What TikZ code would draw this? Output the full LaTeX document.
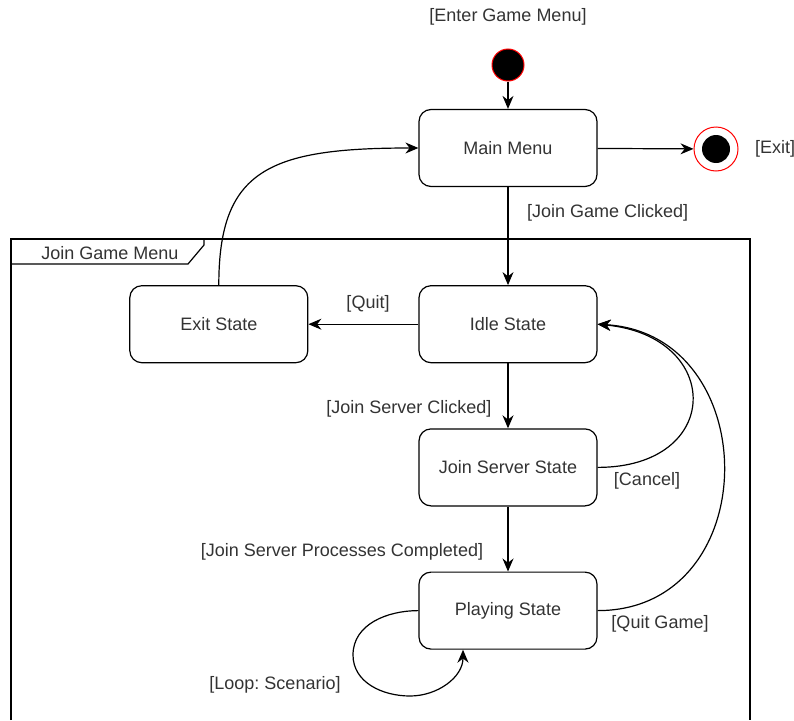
\documentclass[tikz,border=0pt]{standalone}
\usepackage{fontspec}
\setmainfont{Liberation Sans}
\usetikzlibrary{arrows.meta,positioning}
\frenchspacing

\definecolor{txtgray}{HTML}{333333}
\definecolor{ringred}{HTML}{FF0000}

\tikzset{
	state/.style={draw, rounded corners=12pt, minimum width=178pt, minimum height=77pt, line width=1.2pt, text=txtgray, font=\fontsize{18}{21}\selectfont},
	guard/.style={text=txtgray, inner sep=0pt, font=\fontsize{18}{21}\selectfont},
	trans/.style={line width=1.2pt, -{Stealth[length=13pt,width=11pt]}},
}

\begin{document}
\begin{tikzpicture}[x=1pt,y=-1pt]
		\useasboundingbox (0,0) rectangle (794,720);
		
		% frame of the composite state
		\draw[line width=1.2pt] (11,720) -- (11,239) -- (750,239) -- (750,720);
		\draw[line width=1.2pt] (11,264) -- (188,264) -- (204,245) -- (204,239);
		\node[guard] (framelbl) at (110,253) {Join Game Menu};
		
		% states
		\node[state] (mm) at (508,148) {Main Menu};
		\node[state, below=98pt of mm] (idle) {Idle State};
		\node[state, left=110pt of idle] (exitst) {Exit State};
		\node[state, below=65pt of idle] (js) {Join Server State};
		\node[state, below=65pt of js] (play) {Playing State};
		
		% start and end
		\node[circle, draw=ringred, fill=black, line width=1pt, minimum size=32pt, inner sep=0pt] (init) at (508,65) {};
		\node[circle, draw=ringred, fill=white, line width=1pt, minimum size=44pt, inner sep=0pt] (fin) at (716,149) {};
		\node[circle, fill=black, minimum size=28pt, inner sep=0pt] (fincore) at (fin) {};
		
		% transitions
		\draw[trans] (init) -- (mm);
		\draw[trans] (mm) -- (fin);
		\draw[trans] (mm) -- (idle);
		\draw[trans] (idle) -- (exitst);
		\draw[trans] (idle) -- (js);
		\draw[trans] (js) -- (play);
		\draw[trans] (exitst.north) .. controls +(0,-115) and +(-150,0) .. (mm.west);
		\draw[trans] (js.east) .. controls +(126,0) and +(126,12) .. (idle.east);
		\draw[trans] (play.east) .. controls +(168,0) and +(168,10) .. (idle.east);
		\draw[trans] (play.west) to[out=180,in=90] (353,655) to[out=-90,in=180] (410,696) to[out=0,in=-90] ([xshift=-45pt]play.south);
		
		% guards
		\node[guard] (lblenter) at (508,17) {[Enter Game Menu]};
		\node[guard] (lblexit) at (775,149) {[Exit]};
		\node[guard, anchor=west] (lbljoin) at (527,213) {[Join Game Clicked]};
		\node[guard] (lblquit) at (368,304) {[Quit]};
		\node[guard] (lblserver) at (409,409) {[Join Server Clicked]};
		\node[guard] (lblcancel) at (647,481) {[Cancel]};
		\node[guard] (lbldone) at (342,552) {[Join Server Processes Completed]};
		\node[guard] (lblquitgame) at (660,624) {[Quit Game]};
		\node[guard] (lblloop) at (275,685) {[Loop: Scenario]};
\end{tikzpicture}
\end{document}
